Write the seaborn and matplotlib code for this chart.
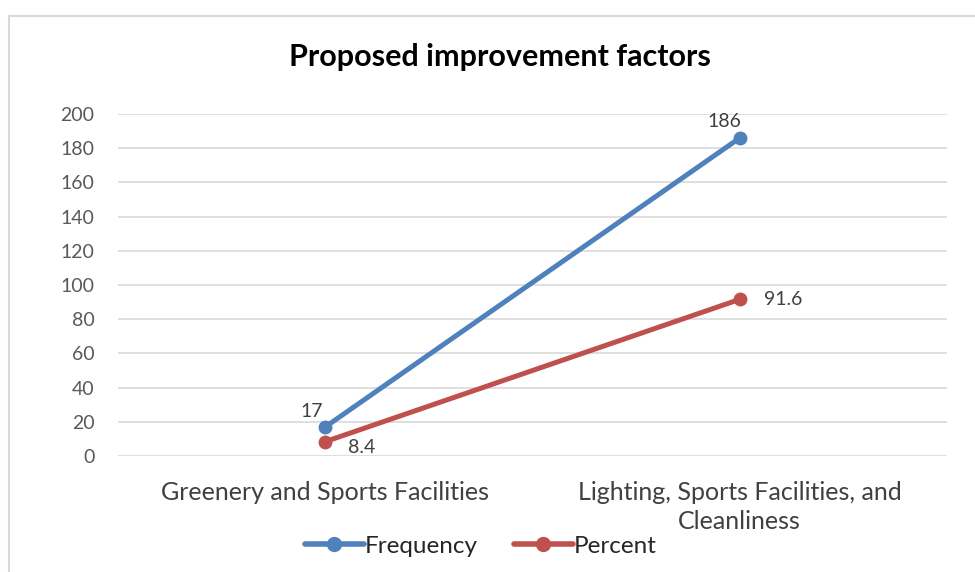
import matplotlib
matplotlib.use("Agg")
import matplotlib.pyplot as plt
import seaborn as sns
import pandas as pd
from matplotlib.patches import Rectangle
from matplotlib.lines import Line2D

categories = ["Greenery and Sports Facilities", "Lighting, Sports Facilities, and\nCleanliness"]
frequency = [17, 186]
percent = [8.4, 91.6]
series_names = ["Frequency", "Percent"]
yticks = [0, 20, 40, 60, 80, 100, 120, 140, 160, 180, 200]

sns.set_theme(style="white")
plt.rcParams['font.family'] = ['Lato', 'DejaVu Sans']

df = pd.DataFrame({
    "x": list(range(len(categories))) * 2,
    "value": frequency + percent,
    "series": [series_names[0]] * len(categories) + [series_names[1]] * len(categories),
})

fig = plt.figure(figsize=(9.75, 5.72), dpi=100)
ax = fig.add_axes([118/975, (572-456)/572, (947-118)/975, (456-114)/572])

palette = {"Frequency": "#4F81BD", "Percent": "#C0504D"}
sns.lineplot(data=df, x="x", y="value", hue="series", palette=palette, ax=ax,
             marker="o", markersize=10, linewidth=3.6, markeredgewidth=0, legend=False)

ax.set_xlim(-0.5, 1.5)
ax.set_ylim(0, 200)
ax.set_yticks(yticks)
ax.set_yticklabels([str(t) for t in yticks], fontsize=14, color="#595959")
ax.set_xticks(range(len(categories)))
ax.set_xticklabels(categories, fontsize=18, color="#404040", linespacing=1.3)
ax.tick_params(axis='x', length=0, pad=18)
ax.tick_params(axis='y', length=0, pad=17)
ax.set_xlabel("")
ax.set_ylabel("")
ax.grid(axis='y', color="#D9D9D9", linewidth=1.2)
ax.set_axisbelow(True)
for s in ax.spines.values():
    s.set_visible(False)

# data labels
lbl_kw = dict(fontsize=14, color="#404040")
ax.annotate(f"{frequency[0]:g}", (0, frequency[0]), xytext=(-10, 5), textcoords="offset points", ha="center", va="bottom", **lbl_kw)
ax.annotate(f"{percent[0]:g}", (0, percent[0]), xytext=(26, -4), textcoords="offset points", ha="center", va="center", **lbl_kw)
ax.annotate(f"{frequency[1]:g}", (1, frequency[1]), xytext=(-11, 6), textcoords="offset points", ha="center", va="bottom", **lbl_kw)
ax.annotate(f"{percent[1]:g}", (1, percent[1]), xytext=(31, 0), textcoords="offset points", ha="center", va="center", **lbl_kw)

fig.text(500/975, 1 - 57/572, "Proposed improvement factors", ha="center", va="center",
         fontsize=22, fontweight="bold", color="#000000")

handles = [Line2D([0], [0], color=palette[n], linewidth=4, marker="o", markersize=11, markeredgewidth=0) for n in series_names]
fig.legend(handles, series_names, loc="center", bbox_to_anchor=(481/975, 1 - 546/572), ncol=2,
           frameon=False, fontsize=17.5, handlelength=2.4, handletextpad=0.05, columnspacing=1.5)

fig.add_artist(Rectangle((9/975, -0.05), 1.0, 1 - 16/572 + 0.05, transform=fig.transFigure,
                         fill=False, edgecolor="#D9D9D9", linewidth=1.5))

fig.savefig("out.png", dpi=100)
